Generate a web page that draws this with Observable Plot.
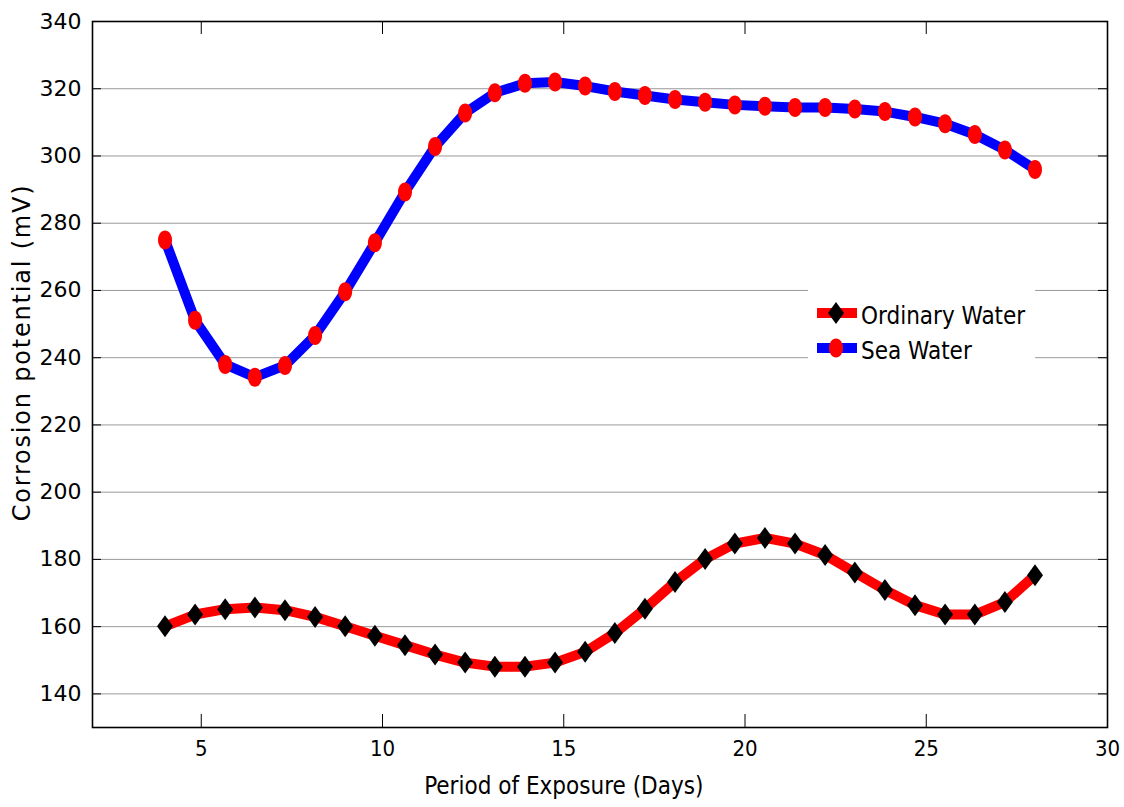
<!DOCTYPE html>
<html><head><meta charset="utf-8">
<script src="https://cdn.jsdelivr.net/npm/d3@7"></script>
<script src="https://cdn.jsdelivr.net/npm/@observablehq/plot@0.6"></script>
<style>html,body{margin:0;padding:0;background:#fff} svg{display:block} .ylab text{letter-spacing:1.8px}</style>
</head><body><div id="chart"></div>
<script>
const days = [4, 4.83, 5.66, 6.48, 7.31, 8.14, 8.97, 9.79, 10.62, 11.45, 12.28, 13.1, 13.93, 14.76, 15.59,
  16.41, 17.24, 18.07, 18.9, 19.72, 20.55, 21.38, 22.21, 23.03, 23.86, 24.69, 25.52, 26.34, 27.17, 28];
const seaWater = [275, 251.1, 238, 234.2, 237.7, 246.6, 259.6, 274.2, 289.3, 302.8, 312.8, 318.8, 321.6, 322, 320.8,
  319.2, 318, 316.8, 316, 315.2, 314.8, 314.4, 314.4, 314, 313.2, 311.6, 309.6, 306.4, 301.8, 296];
const ordinaryWater = [160.1, 163.6, 165.2, 165.7, 164.9, 162.9, 160.1, 157.3, 154.5, 151.7, 149.3, 148.1, 148.1, 149.3, 152.5,
  158.1, 165.3, 173.3, 180.1, 184.7, 186.4, 184.7, 181.3, 176.1, 170.9, 166.4, 163.6, 163.6, 167.3, 175.3];
const xTicks = [5, 10, 15, 20, 25, 30];
const yTicks = [140, 160, 180, 200, 220, 240, 260, 280, 300, 320, 340];
const seriesNames = ["Ordinary Water", "Sea Water"];
const xLabel = "Period of Exposure (Days)";
const yLabel = "Corrosion potential (mV)";

const sea = days.map((d, i) => ({day: d, mv: seaWater[i]}));
const ord = days.map((d, i) => ({day: d, mv: ordinaryWater[i]}));

// custom symbols
const ellipse = {draw(ctx) { const rx = 7, ry = 9.5, k = 0.5523;
  ctx.moveTo(rx, 0);
  ctx.bezierCurveTo(rx, ry * k, rx * k, ry, 0, ry);
  ctx.bezierCurveTo(-rx * k, ry, -rx, ry * k, -rx, 0);
  ctx.bezierCurveTo(-rx, -ry * k, -rx * k, -ry, 0, -ry);
  ctx.bezierCurveTo(rx * k, -ry, rx, -ry * k, rx, 0);
  ctx.closePath(); }};
const diamond = {draw(ctx) { ctx.moveTo(0, -11); ctx.lineTo(8, 0); ctx.lineTo(0, 11); ctx.lineTo(-8, 0); ctx.closePath(); }};

const W = 1124, H = 807, mL = 92, mR = 17, mT = 21, mB = 80;
const pw = W - mL - mR, ph = H - mT - mB;

const plot = Plot.plot({
  width: W, height: H,
  marginLeft: mL, marginRight: mR, marginTop: mT, marginBottom: mB,
  style: {fontFamily: "'DejaVu Sans Condensed', 'DejaVu Sans', sans-serif", fontSize: "22px", color: "black", background: "white"},
  x: {domain: [2, 30]},
  y: {domain: [130, 340]},
  marks: [
    Plot.ruleY(yTicks, {stroke: "#9a9a9a", strokeWidth: 1}),
    Plot.line(ord, {x: "day", y: "mv", stroke: "#ff0000", strokeWidth: 10, strokeLinejoin: "round"}),
    Plot.line(sea, {x: "day", y: "mv", stroke: "#0000ff", strokeWidth: 10, strokeLinejoin: "round"}),
    Plot.dot(ord, {x: "day", y: "mv", symbol: diamond, r: 5, fill: "black", stroke: "none"}),
    Plot.dot(sea, {x: "day", y: "mv", symbol: ellipse, r: 5, fill: "#ff0000", stroke: "none"}),
    // inward ticks
    Plot.ruleX(xTicks, {stroke: "black", strokeWidth: 1, insetTop: ph - 13}),
    Plot.ruleX(xTicks, {stroke: "black", strokeWidth: 1, insetBottom: ph - 13}),
    Plot.ruleY(yTicks, {stroke: "black", strokeWidth: 1, insetRight: pw - 9}),
    Plot.ruleY(yTicks, {stroke: "black", strokeWidth: 1, insetLeft: pw - 9}),
    Plot.frame({stroke: "black", strokeWidth: 1.6}),
    Plot.axisX(xTicks, {tickSize: 0, tickPadding: 13, fontSize: 22, label: null}),
    Plot.axisY(yTicks, {tickSize: 0, tickPadding: 11, fontSize: 22, label: null, fontFamily: "'DejaVu Sans', sans-serif"}),
    Plot.text([xLabel], {x: () => 15, frameAnchor: "bottom", dy: 66, text: d => d, fontSize: 24}),
    Plot.text([yLabel], {frameAnchor: "left", textAnchor: "middle", rotate: -90, dx: -70, dy: -22, text: d => d, fontSize: 24,
      fontFamily: "'DejaVu Sans', sans-serif", className: "ylab"})
  ]
});
document.getElementById("chart").appendChild(plot);

// legend
const svg = d3.select(plot);
const lg = svg.append("g")
  .style("font-family", "'DejaVu Sans Condensed', 'DejaVu Sans', sans-serif")
  .style("font-size", "24px");
lg.append("rect").attr("x", 808).attr("y", 282).attr("width", 227).attr("height", 93).attr("fill", "white");
const items = [
  {name: seriesNames[0], line: "#ff0000", sym: diamond, fill: "black", y: 313},
  {name: seriesNames[1], line: "#0000ff", sym: ellipse, fill: "#ff0000", y: 348}
];
for (const it of items) {
  lg.append("line").attr("x1", 817).attr("x2", 857).attr("y1", it.y).attr("y2", it.y)
    .attr("stroke", it.line).attr("stroke-width", 10);
  const p = d3.path(); it.sym.draw(p);
  lg.append("path").attr("d", p.toString()).attr("transform", `translate(836,${it.y})`).attr("fill", it.fill);
  lg.append("text").attr("x", 861).attr("y", it.y + 11).attr("text-anchor", "start").attr("fill", "black").text(it.name);
}
</script></body></html>
